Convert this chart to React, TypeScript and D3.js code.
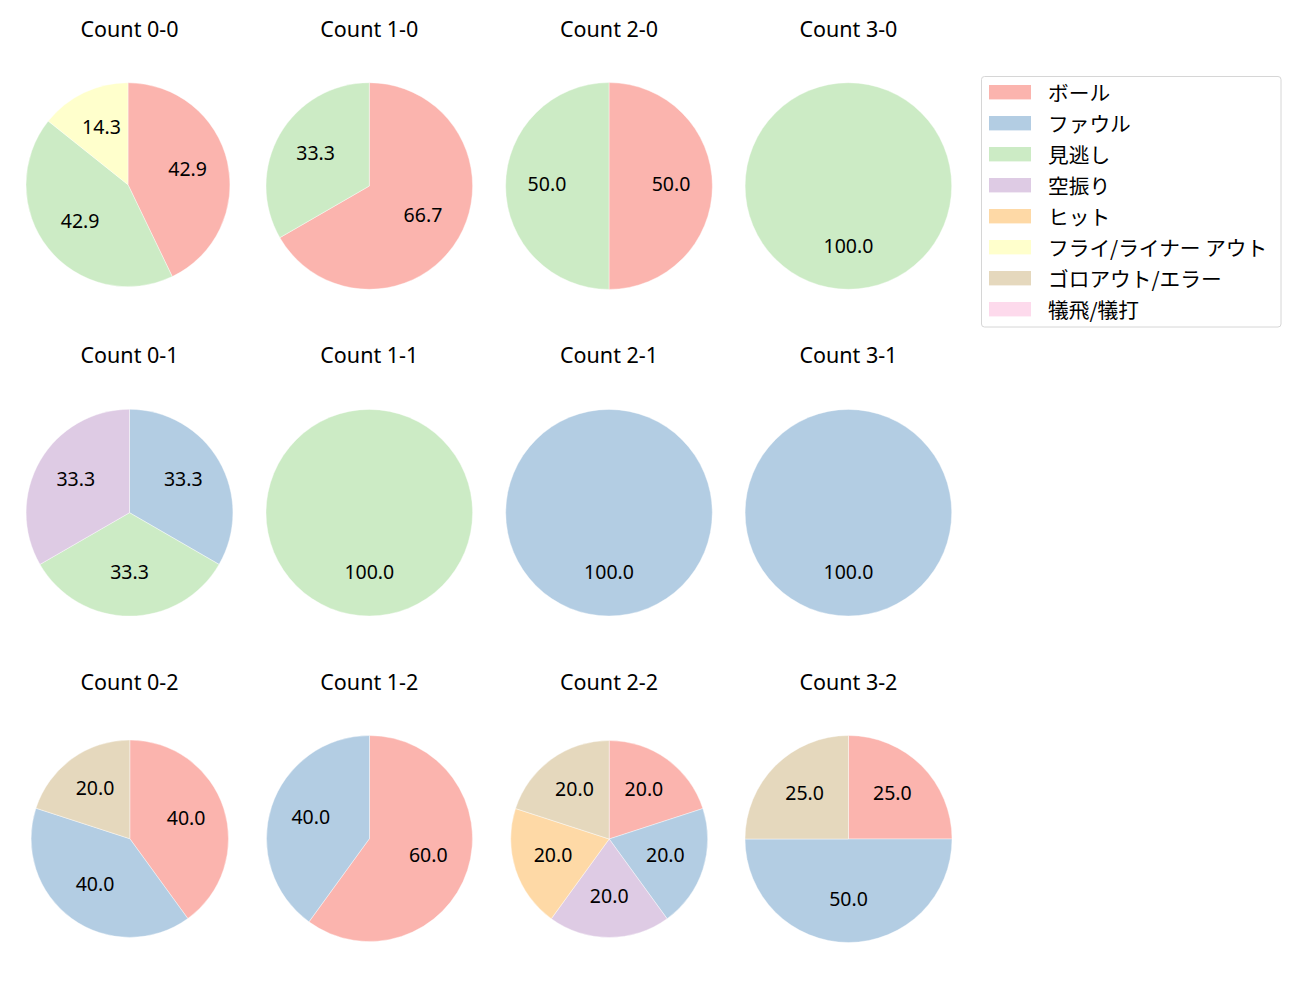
import React from "react";
import * as d3 from "d3";

// ---- data ----
const categories = ["ボール", "ファウル", "見逃し", "空振り", "ヒット", "フライ/ライナー アウト", "ゴロアウト/エラー", "犠飛/犠打"];
const colors = ["#fbb4ae", "#b3cde3", "#ccebc5", "#decbe4", "#fed9a6", "#ffffcc", "#e5d8bd", "#fddaec"];
const countLabels = ["0-0", "1-0", "2-0", "3-0", "0-1", "1-1", "2-1", "3-1", "0-2", "1-2", "2-2", "3-2"];
// values per count (same order as countLabels)
const ball = [3, 2, 1, 0, 0, 0, 0, 0, 2, 3, 1, 1];
const foul = [0, 0, 0, 0, 1, 0, 1, 1, 2, 2, 1, 2];
const looking = [3, 1, 1, 1, 1, 1, 0, 0, 0, 0, 0, 0];
const swinging = [0, 0, 0, 0, 1, 0, 0, 0, 0, 0, 1, 0];
const hit = [0, 0, 0, 0, 0, 0, 0, 0, 0, 0, 1, 0];
const flyout = [1, 0, 0, 0, 0, 0, 0, 0, 0, 0, 0, 0];
const groundout = [0, 0, 0, 0, 0, 0, 0, 0, 1, 0, 1, 1];
const sacrifice = [0, 0, 0, 0, 0, 0, 0, 0, 0, 0, 0, 0];
const series = [ball, foul, looking, swinging, hit, flyout, groundout, sacrifice];

// ---- layout ----
const W = 1300, H = 1000;
const colX = [129.5, 369.3, 609, 848.4];
const rowY = [186, 512.7, 839];
// per-pie small adjustments [dx, dy, r]
const pieGeom: [number, number, number][] = [
  [-1.5, -1.3, 102], [0, 0, 103.3], [0, 0, 103.4], [0, 0, 103.3],
  [0, 0, 103.4], [0, 0, 103.3], [0, 0, 103.3], [0, 0, 103.3],
  [0.3, -0.3, 98.7], [0.2, -0.5, 103], [0.2, 0, 98.5], [0.1, 0, 103.5],
];
const titleBase = [36.5, 363.2, 689.8];
const LATIN = "'Noto Sans', 'Noto Sans CJK JP', sans-serif";
const CJK = "'Noto Sans CJK JP', sans-serif";
const LABEL_FS = 19.5;
const TITLE_FS = 21.5;

export default function App() {
  const pie = d3.pie<number>().sort(null).value((d) => d).startAngle(0).endAngle(2 * Math.PI);

  return (
    <svg width={W} height={H} style={{ display: "block", position: "absolute", left: 0, top: 0 }} fontFamily={LATIN}>
      <rect width={W} height={H} fill="#fff" />
      {countLabels.map((lab, i) => {
        const col = i % 4, row = Math.floor(i / 4);
        const [dx, dy, r] = pieGeom[i];
        const cx = colX[col] + dx, cy = rowY[row] + dy;
        const vals = series.map((s) => s[i]);
        const total = d3.sum(vals);
        const arcs = pie(vals);
        const arc = d3.arc<d3.PieArcDatum<number>>().innerRadius(0).outerRadius(r);
        const labelArc = d3.arc<d3.PieArcDatum<number>>().innerRadius(r * 0.6).outerRadius(r * 0.6);
        return (
          <g key={lab}>
            <text x={colX[col]} y={titleBase[row]} textAnchor="middle" fontSize={TITLE_FS} fill="#000">
              {`Count ${lab}`}
            </text>
            <g transform={`translate(${cx},${cy})`}>
              {arcs.map((a, k) =>
                a.value > 0 ? (
                  <path key={k} d={arc(a) || ""} fill={colors[k]} stroke="#fff" strokeWidth={0.4} />
                ) : null
              )}
              {arcs.map((a, k) => {
                if (a.value <= 0) return null;
                const [lx, ly] = labelArc.centroid(a);
                return (
                  <text key={"t" + k} x={lx} y={ly - 2.3 + 0.357 * LABEL_FS} textAnchor="middle" fontSize={LABEL_FS} fill="#000">
                    {((a.value / total) * 100).toFixed(1)}
                  </text>
                );
              })}
            </g>
          </g>
        );
      })}
      {/* legend */}
      <g fontFamily={CJK}>
        <rect x={981.5} y={76.5} width={299.5} height={250.5} rx={3} fill="#fff" stroke="#d6d6d6" strokeWidth={1} />
        {categories.map((c, k) => {
          const yc = 92.2 + k * 31;
          return (
            <g key={c}>
              <rect x={989} y={yc - 7.2} width={42} height={14.4} fill={colors[k]} />
              <text x={1048} y={yc} dominantBaseline="central" fontSize={20.7} fill="#000">
                {c}
              </text>
            </g>
          );
        })}
      </g>
    </svg>
  );
}
